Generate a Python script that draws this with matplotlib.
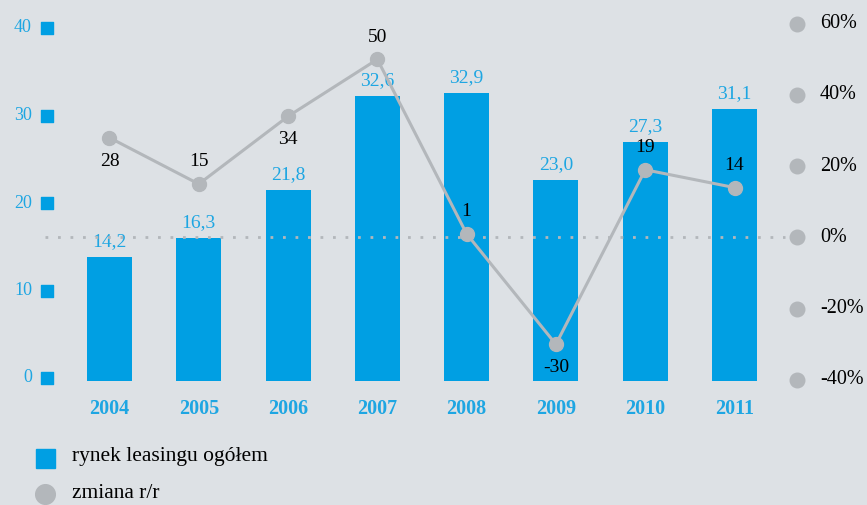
import matplotlib.pyplot as plt
import matplotlib.transforms as mtransforms

years = ["2004", "2005", "2006", "2007", "2008", "2009", "2010", "2011"]
market = [14.2, 16.3, 21.8, 32.6, 32.9, 23.0, 27.3, 31.1]
change = [28, 15, 34, 50, 1, -30, 19, 14]
change_pos = ["below", "above", "below", "above", "above", "below", "above", "above"]
left_ticks = [0, 10, 20, 30, 40]
right_ticks = [-40, -20, 0, 20, 40, 60]

BG = "#dde1e5"
BLUE = "#009fe3"
LBLUE = "#1ea6e2"
GREY = "#b3b7bb"
FONT = "Liberation Serif"

W, H = 867, 505
fig = plt.figure(figsize=(W / 100, H / 100), dpi=100, facecolor=BG)

# axes box in pixels: x 40..800, y 23..381 (from top)
ax = fig.add_axes([40 / W, 1 - 381 / H, 760 / W, 358 / H])
ax.set_facecolor("none")
x = list(range(len(years)))
step = 89.3
ax.set_xlim(-(109.5 - 40) / step, 7 + (800 - 734.5) / step)
ax.set_ylim(0, 358 / 8.75)
for s in ax.spines.values():
    s.set_visible(False)
ax.set_xticks([])
ax.set_yticks([])

ax.bar(x, market, width=45 / step, color=BLUE, zorder=2)
for xi, v in zip(x, market):
    ax.annotate(f"{v:.1f}".replace(".", ","), (xi, v), xytext=(0, 5), textcoords="offset points",
                ha="center", va="bottom", color=LBLUE, fontsize=14, family=FONT)
for xi, y in zip(x, years):
    ax.annotate(y, (xi, 0), xytext=(0, -20), textcoords="offset points", ha="center", va="center",
                color=LBLUE, fontsize=14.5, fontweight="bold", family=FONT)

# left tick markers (sit a few px above the bar scale in the original)
shift = mtransforms.ScaledTranslation(0, 3 / 100, fig.dpi_scale_trans)
ytr = ax.get_yaxis_transform() + shift
for t in left_ticks:
    ax.scatter([7 / 760], [t], marker="s", s=80, color=BLUE, transform=ytr, clip_on=False, zorder=3)
    ax.text(-8 / 760, t, str(t), transform=ytr, ha="right", va="center",
            color=LBLUE, fontsize=13, family=FONT)

ax2 = ax.twinx()
ax2.set_ylim(-40.3, 60.2)
for s in ax2.spines.values():
    s.set_visible(False)
ax2.set_yticks([])
ax2.axhline(0, xmin=5 / 760, xmax=745 / 760, color=GREY, linestyle=(0, (1, 3.5)), linewidth=2, zorder=1)
ax2.plot(x, change, color=GREY, linewidth=2.2, marker="o", markersize=10, zorder=4)
for xi, v, p in zip(x, change, change_pos):
    dy = 16 if p == "above" else -17
    ax2.annotate(str(v), (xi, v), xytext=(0, dy), textcoords="offset points", ha="center", va="center",
                 color="black", fontsize=14, family=FONT)

# right tick markers
for t in right_ticks:
    ax2.scatter([757 / 760], [t], marker="o", s=110, color=GREY, transform=ax2.get_yaxis_transform(),
                clip_on=False, zorder=3)
    ax2.text(780 / 760, t, f"{t}%", transform=ax2.get_yaxis_transform(), ha="left", va="center",
             color="black", fontsize=14.5, family=FONT)

# legend
fig.patches.append(plt.Rectangle((36 / W, 1 - 468 / H), 19 / W, 19 / H, color=BLUE,
                                 transform=fig.transFigure, figure=fig))
fig.text(72 / W, 1 - 457 / H, "rynek leasingu ogółem", ha="left", va="center", fontsize=15.5, family=FONT)
ax.scatter([45 / W], [1 - 494 / H], s=200, color=GREY, transform=fig.transFigure, clip_on=False)
fig.text(72 / W, 1 - 494 / H, "zmiana r/r", ha="left", va="center", fontsize=15.5, family=FONT)

fig.savefig("out.png", dpi=100, facecolor=BG)
